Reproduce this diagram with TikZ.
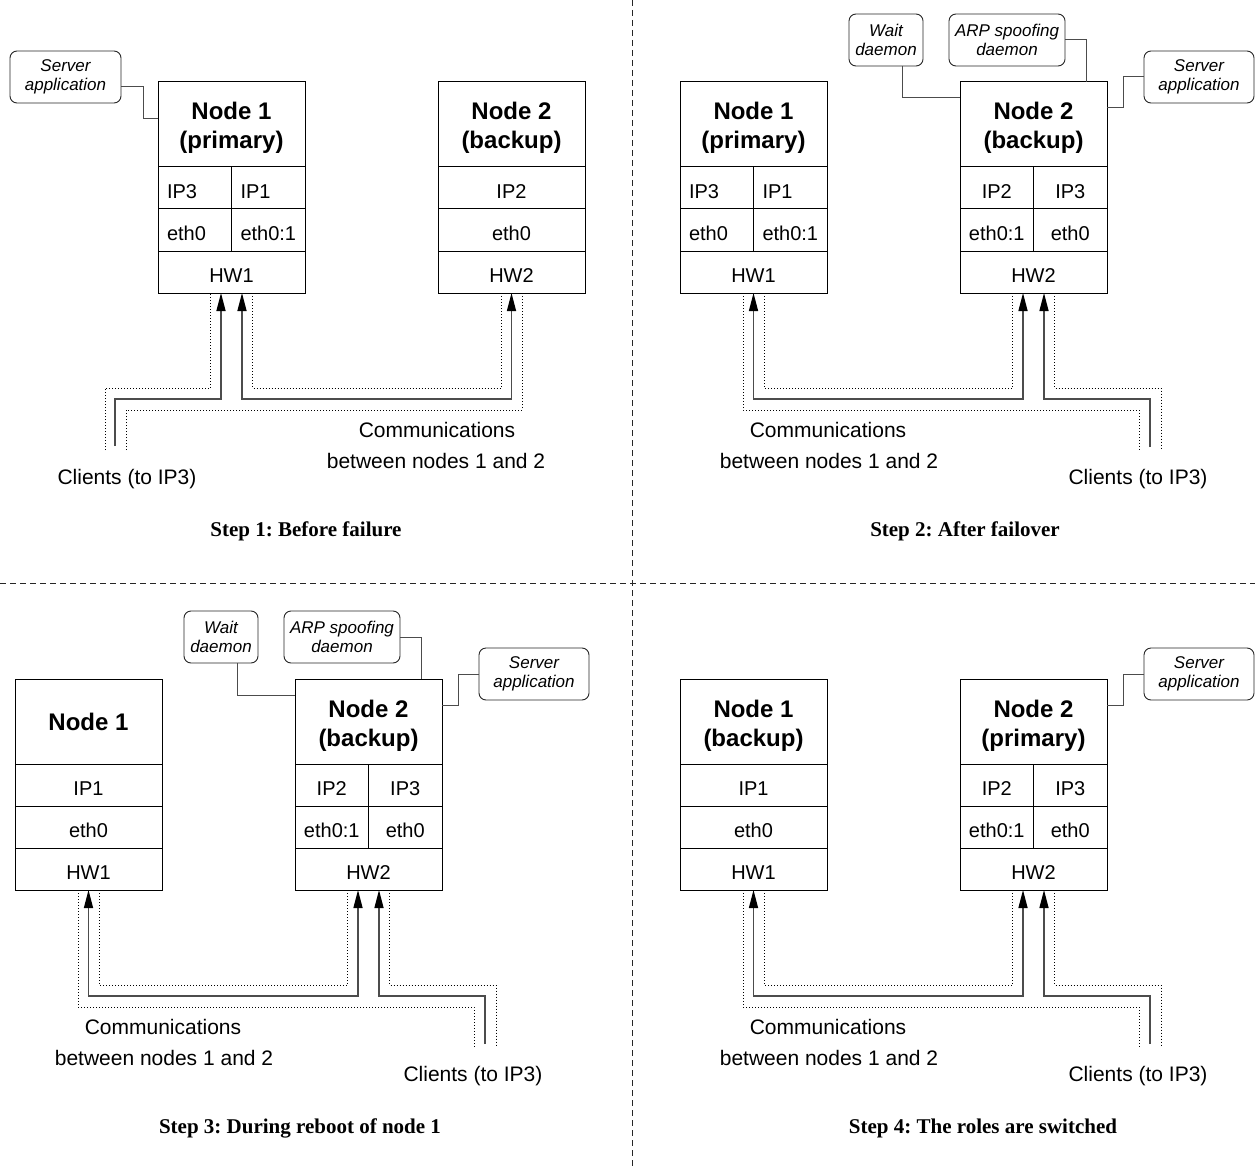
\documentclass[tikz,border=0pt]{standalone}
\usepackage{fontspec}
\setmainfont{Liberation Sans}
\newfontfamily\stepserif{Liberation Serif}
\usetikzlibrary{arrows.meta}
\frenchspacing

\begin{document}
\begin{tikzpicture}[x=1pt,y=-1pt,
  >={Triangle[length=18pt,width=9pt,color=black]},
  box/.style={draw=black, line width=1pt, inner sep=0pt, outer sep=0pt, anchor=north west},
  headbox/.style={box, minimum width=147pt, minimum height=85pt, align=center,
    font=\fontsize{24}{29}\selectfont\bfseries, text height=54pt, text depth=5pt},
  headone/.style={box, minimum width=147pt, minimum height=85pt, align=center,
    font=\fontsize{24}{29}\selectfont\bfseries},
  cellrow/.style={box, minimum width=147pt, minimum height=42pt, text height=21pt,
    text depth=0pt, font=\fontsize{20}{24}\selectfont},
  half/.style={cellrow, minimum width=73.5pt},
  halfl/.style={half, text width=55.5pt, inner xsep=9pt, align=left},
  bubble/.style={draw=black!85, line width=0.9pt, rounded corners=7pt, anchor=north west,
    minimum height=52pt, inner sep=0pt, outer sep=0pt, align=center,
    font=\fontsize{17}{19.5}\selectfont\itshape},
  tie/.style={draw=black!70, line width=1pt},
  link/.style={draw=black!70, line width=1.4pt},
  dots/.style={draw=black, line width=0.9pt, dash pattern=on 1pt off 2pt},
  sep/.style={draw=black!85, line width=1pt, dash pattern=on 6pt off 4pt},
  lab/.style={anchor=base, inner sep=0pt, font=\fontsize{21}{24}\selectfont},
  steptitle/.style={anchor=base, inner sep=0pt, font=\stepserif\bfseries\fontsize{21}{24}\selectfont}
]
\useasboundingbox (0,0) rectangle (1255,1169);
\fill[white] (0,0) rectangle (1255,1169);

% panel separators
\draw[sep] (0,583) -- (1255,583);
\draw[sep] (632,0) -- (632,1169);

% ---------------- Step 1 ----------------
\node[headbox] (s1n1) at (158,82) {Node 1\\(primary)};
\node[halfl] (s1n1ipa) at (158,167) {IP3};
\node[halfl] (s1n1ipb) at (231.5,167) {IP1};
\node[halfl] (s1n1etha) at (158,209) {eth0};
\node[halfl] (s1n1ethb) at (231.5,209) {eth0:1};
\node[cellrow] (s1n1hw) at (158,251) {HW1};

\node[headbox] (s1n2) at (438,82) {Node 2\\(backup)};
\node[cellrow] (s1n2ip) at (438,167) {IP2};
\node[cellrow] (s1n2eth) at (438,209) {eth0};
\node[cellrow] (s1n2hw) at (438,251) {HW2};

\node[bubble, minimum width=111pt] (s1app) at (10,51) {Server\\application};
\draw[tie] ([yshift=-10pt]s1app.east) -- ++(22,0) |- ([yshift=5.5pt]s1n1.west);

\coordinate (s1cli) at (115,446);
\coordinate (s1cliL) at (105,450);
\coordinate (s1cliR) at (126,450);
\draw[link,->] (s1cli) |- ([xshift=-10.5pt,yshift=-106pt]s1n1hw.south) -- ([xshift=-10.5pt]s1n1hw.south);
\draw[link,<->] ([xshift=10.5pt]s1n1hw.south) -- ++(0,106) -| (s1n2hw.south);
\draw[dots] (s1cliL) |- ([xshift=-21pt,yshift=-95pt]s1n1hw.south) -- ([xshift=-21pt]s1n1hw.south);
\draw[dots] ([xshift=21pt]s1n1hw.south) -- ++(0,95) -| ([xshift=-10.5pt]s1n2hw.south);
\draw[dots] (s1cliR) |- ([xshift=10.5pt,yshift=-117pt]s1n2hw.south) -- ([xshift=10.5pt]s1n2hw.south);

\node[lab] (s1clit) at (127,484) {Clients (to IP3)};
\node[lab] (s1coma) at (437,437) {Communications};
\node[lab] (s1comb) at (436,468) {between nodes 1 and 2};
\node[steptitle] (s1title) at (306,536) {Step 1: Before failure};

% ---------------- Step 2 ----------------
\node[headbox] (s2n1) at (680,82) {Node 1\\(primary)};
\node[halfl] (s2n1ipa) at (680,167) {IP3};
\node[halfl] (s2n1ipb) at (753.5,167) {IP1};
\node[halfl] (s2n1etha) at (680,209) {eth0};
\node[halfl] (s2n1ethb) at (753.5,209) {eth0:1};
\node[cellrow] (s2n1hw) at (680,251) {HW1};

\node[headbox] (s2n2) at (960,82) {Node 2\\(backup)};
\node[half] (s2n2ipa) at (960,167) {IP2};
\node[half] (s2n2ipb) at (1033.5,167) {IP3};
\node[half] (s2n2etha) at (960,209) {eth0:1};
\node[half] (s2n2ethb) at (1033.5,209) {eth0};
\node[cellrow] (s2n2hw) at (960,251) {HW2};

\node[bubble, minimum width=74pt] (s2wait) at (849,14) {Wait\\daemon};
\node[bubble, minimum width=116pt] (s2arp) at (949,14) {ARP spoofing\\daemon};
\node[bubble, minimum width=110pt] (s2app) at (1144,51) {Server\\application};
\draw[tie] ([xshift=16pt]s2wait.south) |- ([yshift=26.5pt]s2n2.west);
\draw[tie] (s2arp.east) -| ([xshift=52.5pt]s2n2.north);
\draw[tie] ([yshift=16.5pt]s2n2.east) -- ++(16,0) |- (s2app.west);

\coordinate (s2cli) at (1150,447);
\coordinate (s2cliL) at (1139,450);
\coordinate (s2cliR) at (1161,450);
\draw[link,<->] (s2n1hw.south) -- ++(0,106) -| ([xshift=-10.5pt]s2n2hw.south);
\draw[link,->] (s2cli) |- ([xshift=10.5pt,yshift=-106pt]s2n2hw.south) -- ([xshift=10.5pt]s2n2hw.south);
\draw[dots] ([xshift=10.5pt]s2n1hw.south) -- ++(0,95) -| ([xshift=-21pt]s2n2hw.south);
\draw[dots] ([xshift=-10.5pt]s2n1hw.south) -- ++(0,117) -| (s2cliL);
\draw[dots] ([xshift=21pt]s2n2hw.south) -- ++(0,95) -| (s2cliR);

\node[lab] (s2coma) at (828,437) {Communications};
\node[lab] (s2comb) at (829,468) {between nodes 1 and 2};
\node[lab] (s2clit) at (1138,484) {Clients (to IP3)};
\node[steptitle] (s2title) at (965,536) {Step 2: After failover};

% ---------------- Step 3 ----------------
\node[headone] (s3n1) at (15,679) {Node 1};
\node[cellrow] (s3n1ip) at (15,764) {IP1};
\node[cellrow] (s3n1eth) at (15,806) {eth0};
\node[cellrow] (s3n1hw) at (15,848) {HW1};

\node[headbox] (s3n2) at (295,679) {Node 2\\(backup)};
\node[half] (s3n2ipa) at (295,764) {IP2};
\node[half] (s3n2ipb) at (368.5,764) {IP3};
\node[half] (s3n2etha) at (295,806) {eth0:1};
\node[half] (s3n2ethb) at (368.5,806) {eth0};
\node[cellrow] (s3n2hw) at (295,848) {HW2};

\node[bubble, minimum width=74pt] (s3wait) at (184,611) {Wait\\daemon};
\node[bubble, minimum width=116pt] (s3arp) at (284,611) {ARP spoofing\\daemon};
\node[bubble, minimum width=110pt] (s3app) at (479,648) {Server\\application};
\draw[tie] ([xshift=16pt]s3wait.south) |- ([yshift=26.5pt]s3n2.west);
\draw[tie] (s3arp.east) -| ([xshift=52.5pt]s3n2.north);
\draw[tie] ([yshift=16.5pt]s3n2.east) -- ++(16,0) |- (s3app.west);

\coordinate (s3cli) at (485,1044);
\coordinate (s3cliL) at (474,1047);
\coordinate (s3cliR) at (496,1047);
\draw[link,<->] (s3n1hw.south) -- ++(0,106) -| ([xshift=-10.5pt]s3n2hw.south);
\draw[link,->] (s3cli) |- ([xshift=10.5pt,yshift=-106pt]s3n2hw.south) -- ([xshift=10.5pt]s3n2hw.south);
\draw[dots] ([xshift=10.5pt]s3n1hw.south) -- ++(0,95) -| ([xshift=-21pt]s3n2hw.south);
\draw[dots] ([xshift=-10.5pt]s3n1hw.south) -- ++(0,117) -| (s3cliL);
\draw[dots] ([xshift=21pt]s3n2hw.south) -- ++(0,95) -| (s3cliR);

\node[lab] (s3coma) at (163,1034) {Communications};
\node[lab] (s3comb) at (164,1065) {between nodes 1 and 2};
\node[lab] (s3clit) at (473,1081) {Clients (to IP3)};
\node[steptitle] (s3title) at (300,1133) {Step 3: During reboot of node 1};

% ---------------- Step 4 ----------------
\node[headbox] (s4n1) at (680,679) {Node 1\\(backup)};
\node[cellrow] (s4n1ip) at (680,764) {IP1};
\node[cellrow] (s4n1eth) at (680,806) {eth0};
\node[cellrow] (s4n1hw) at (680,848) {HW1};

\node[headbox] (s4n2) at (960,679) {Node 2\\(primary)};
\node[half] (s4n2ipa) at (960,764) {IP2};
\node[half] (s4n2ipb) at (1033.5,764) {IP3};
\node[half] (s4n2etha) at (960,806) {eth0:1};
\node[half] (s4n2ethb) at (1033.5,806) {eth0};
\node[cellrow] (s4n2hw) at (960,848) {HW2};

\node[bubble, minimum width=110pt] (s4app) at (1144,648) {Server\\application};
\draw[tie] ([yshift=16.5pt]s4n2.east) -- ++(16,0) |- (s4app.west);

\coordinate (s4cli) at (1150,1044);
\coordinate (s4cliL) at (1139,1047);
\coordinate (s4cliR) at (1161,1047);
\draw[link,<->] (s4n1hw.south) -- ++(0,106) -| ([xshift=-10.5pt]s4n2hw.south);
\draw[link,->] (s4cli) |- ([xshift=10.5pt,yshift=-106pt]s4n2hw.south) -- ([xshift=10.5pt]s4n2hw.south);
\draw[dots] ([xshift=10.5pt]s4n1hw.south) -- ++(0,95) -| ([xshift=-21pt]s4n2hw.south);
\draw[dots] ([xshift=-10.5pt]s4n1hw.south) -- ++(0,117) -| (s4cliL);
\draw[dots] ([xshift=21pt]s4n2hw.south) -- ++(0,95) -| (s4cliR);

\node[lab] (s4coma) at (828,1034) {Communications};
\node[lab] (s4comb) at (829,1065) {between nodes 1 and 2};
\node[lab] (s4clit) at (1138,1081) {Clients (to IP3)};
\node[steptitle] (s4title) at (983,1133) {Step 4: The roles are switched};
\end{tikzpicture}
\end{document}
